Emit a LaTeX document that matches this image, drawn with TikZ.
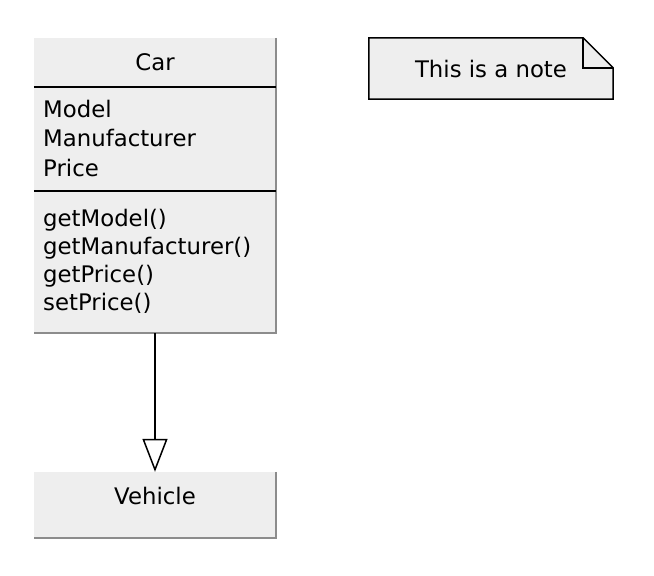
\documentclass[tikz,border=0pt]{standalone}
\usepackage{fontspec}
\setmainfont{DejaVu Sans}
\usepackage{tikz}
\usetikzlibrary{arrows.meta}
\definecolor{boxgray}{RGB}{238,238,238}
\definecolor{shadegray}{RGB}{140,140,140}

\begin{document}
\begin{tikzpicture}[x=1pt, y=-1pt, font=\fontsize{22.8}{28}\selectfont,
    classbox/.style={fill=boxgray, minimum width=242pt, inner sep=0pt},
    member/.style={anchor=base west, inner sep=0pt},
    title/.style={anchor=base, inner sep=0pt},
    rule/.style={line width=1.5pt}]
                  \useasboundingbox (0,0) rectangle (654,576);

                  % Define points
                  \coordinate (C) at (155,185.5);
                  \coordinate (V) at (155,505);
                  \coordinate (N) at (491,68.5);

                  % Draw class boxes
                  \node[classbox, minimum height=295pt] (car) at (C) {};
                  \node[classbox, minimum height=66pt] (vehicle) at (V) {};
                  \draw[shadegray, line width=1.5pt] (car.north east) -- (car.south east) -- (car.south west);
                  \draw[shadegray, line width=1.5pt] (vehicle.north east) -- (vehicle.south east) -- (vehicle.south west);
                  \draw[rule] ([yshift=-49pt]car.north west) -- ([yshift=-49pt]car.north east);
                  \draw[rule] ([yshift=-153pt]car.north west) -- ([yshift=-153pt]car.north east);

                  % Draw note
                  \node[minimum width=244pt, minimum height=61pt, inner sep=0pt] (note) at (N) {};
                  \fill[boxgray] (note.north west) -- ([xshift=-30pt]note.north east) -- ([yshift=-30pt]note.north east) -- (note.south east) -- (note.south west) -- cycle;
                  \draw[rule] (note.north west) -- ([xshift=-30pt]note.north east) -- ([yshift=-30pt]note.north east) -- (note.south east) -- (note.south west) -- cycle;
                  \draw[rule] ([xshift=-30pt]note.north east) |- ([yshift=-30pt]note.north east);

                  % Inheritance
                  \draw[rule, -{Triangle[open, length=33pt, width=25pt]}] (car.south) -- (vehicle.north);

                  % Labels
                  \node[inner sep=0pt] (notetext) at (N) {This is a note};
                  \node[title] (cartitle) at (155,70) {Car};
                  \node[member] (model) at (43,117) {Model};
                  \node[member] (manufacturer) at (43,146.5) {Manufacturer};
                  \node[member] (price) at (43,176) {Price};
                  \node[member] (getmodel) at (43,226) {getModel()};
                  \node[member] (getmanufacturer) at (43,254.5) {getManufacturer()};
                  \node[member] (getprice) at (43,282.5) {getPrice()};
                  \node[member] (setprice) at (43,310.5) {setPrice()};
                  \node[title] (vehicletitle) at (155,504) {Vehicle};

              \end{tikzpicture}
\end{document}
